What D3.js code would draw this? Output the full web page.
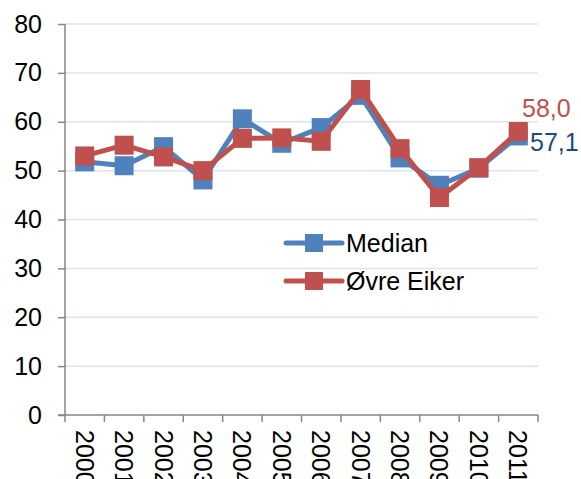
<!DOCTYPE html>
<meta charset="utf-8">
<style>
    body { margin: 0; background: #fff; }
    text { font-family: "Liberation Sans", Arial, sans-serif; }
</style>
<svg width="581" height="479"></svg>
<script src="https://cdn.jsdelivr.net/npm/d3@7"></script>
<script>

    var years = ["2000", "2001", "2002", "2003", "2004", "2005", "2006", "2007", "2008", "2009", "2010", "2011"];
    var median = [51.8, 51.0, 54.9, 48.1, 60.6, 55.6, 58.8, 65.4, 52.6, 47.0, 50.5, 57.1];
    var ovreEiker = [53.0, 55.2, 52.8, 50.0, 56.6, 56.7, 56.0, 66.6, 54.5, 44.5, 50.6, 58.0];
    var yTicks = [0, 10, 20, 30, 40, 50, 60, 70, 80];

    var svg = d3.select("svg");
    var fs = 25;

    var x = d3.scaleBand().domain(years).range([65, 538]);   // category slots
    var y = d3.scaleLinear().domain([0, 80]).range([415, 24]);

    // gridlines
    svg.append("g")
        .selectAll("line")
        .data(yTicks.filter(function(d) { return d > 0; }))
        .enter().append("line")
        .attr("x1", 65).attr("x2", 538)
        .attr("y1", function(d) { return y(d); })
        .attr("y2", function(d) { return y(d); })
        .attr("stroke", "#dae4f1")
        .attr("stroke-width", 1.5);

    // y axis
    var yAxis = svg.append("g")
        .attr("transform", "translate(65,0)")
        .call(d3.axisLeft(y).tickValues(yTicks).tickSize(7).tickPadding(16));
    yAxis.select(".domain").attr("stroke", "#868686").attr("stroke-width", 1.5).attr("d", "M0," + y(80) + "V" + y(0));
    yAxis.selectAll(".tick line").attr("stroke", "#868686").attr("stroke-width", 1.5);
    yAxis.selectAll(".tick text").attr("font-size", fs).attr("fill", "#000")
        .style("font-family", "'Liberation Sans', Arial, sans-serif");

    // x axis, ticks between categories
    var xAxis = svg.append("g").attr("transform", "translate(0,415)");
    xAxis.append("line")
        .attr("x1", 58).attr("x2", 538)
        .attr("stroke", "#868686").attr("stroke-width", 1.5);
    var bounds = years.map(function(d) { return x(d); }).concat([x.range()[1]]);
    xAxis.selectAll(".tk")
        .data(bounds)
        .enter().append("line")
        .attr("class", "tk")
        .attr("x1", function(d) { return d; }).attr("x2", function(d) { return d; })
        .attr("y1", 0).attr("y2", 7)
        .attr("stroke", "#868686").attr("stroke-width", 1.5);
    xAxis.selectAll(".lbl")
        .data(years)
        .enter().append("text")
        .attr("class", "lbl")
        .attr("transform", function(d) { return "translate(" + (x(d) + x.bandwidth() / 2) + ",15) rotate(90)"; })
        .attr("dominant-baseline", "central")
        .attr("font-size", fs)
        .text(function(d) { return d; });

    var series = [
        { name: "Median", values: median, color: "#4f81bd" },
        { name: "Øvre Eiker", values: ovreEiker, color: "#c0504d" }
    ];

    var line = d3.line()
        .x(function(d, i) { return x(years[i]) + x.bandwidth() / 2; })
        .y(function(d) { return y(d); });

    var ms = 19;
    series.forEach(function(s) {
        var g = svg.append("g");
        g.append("path")
            .datum(s.values)
            .attr("d", line)
            .attr("fill", "none")
            .attr("stroke", s.color)
            .attr("stroke-width", 5)
            .attr("stroke-linejoin", "round");
        g.selectAll("rect")
            .data(s.values)
            .enter().append("rect")
            .attr("x", function(d, i) { return x(years[i]) + x.bandwidth() / 2 - ms / 2; })
            .attr("y", function(d) { return y(d) - ms / 2; })
            .attr("width", ms).attr("height", ms)
            .attr("fill", s.color);
    });

    // end labels
    var last = years.length - 1;
    svg.append("text")
        .attr("x", 522).attr("y", y(ovreEiker[last]) - 15)
        .attr("font-size", fs).attr("fill", "#c0504d")
        .text(d3.format(".1f")(ovreEiker[last]).replace(".", ","));
    svg.append("text")
        .attr("x", 530).attr("y", y(median[last]) + 6)
        .attr("dominant-baseline", "central")
        .attr("font-size", fs).attr("fill", "#1f497d")
        .text(d3.format(".1f")(median[last]).replace(".", ","));

    // legend
    var legend = svg.append("g")
        .selectAll("g")
        .data(series)
        .enter().append("g")
        .attr("transform", function(d, i) { return "translate(286," + (243 + i * 38) + ")"; });
    legend.append("line")
        .attr("x1", 0).attr("x2", 56)
        .attr("stroke", function(d) { return d.color; })
        .attr("stroke-width", 5)
        .attr("stroke-linecap", "round");
    legend.append("rect")
        .attr("x", 28 - 9).attr("y", -9)
        .attr("width", 18).attr("height", 18)
        .attr("fill", function(d) { return d.color; });
    legend.append("text")
        .attr("x", 60).attr("dominant-baseline", "central")
        .attr("font-size", fs)
        .text(function(d) { return d.name; });

</script>
